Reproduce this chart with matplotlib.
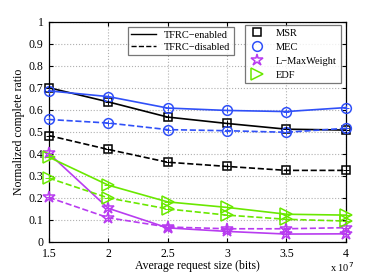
import matplotlib
matplotlib.use("Agg")
import matplotlib.pyplot as plt
from matplotlib.lines import Line2D
import numpy as np

plt.rcParams['font.family'] = ['Liberation Serif', 'DejaVu Serif']
plt.rcParams['font.size'] = 8

# average request size (x 10^7 bits)
sizes = [1.5, 2, 2.5, 3, 3.5, 4]

msr_on = [0.70, 0.636, 0.567, 0.538, 0.512, 0.508]
msr_off = [0.483, 0.42, 0.362, 0.343, 0.325, 0.325]
mec_on = [0.686, 0.66, 0.608, 0.597, 0.592, 0.61]
mec_off = [0.556, 0.54, 0.51, 0.505, 0.498, 0.516]
lmw_on = [0.402, 0.153, 0.064, 0.048, 0.036, 0.037]
lmw_off = [0.202, 0.11, 0.068, 0.06, 0.06, 0.065]
edf_on = [0.385, 0.258, 0.182, 0.157, 0.126, 0.122]
edf_off = [0.29, 0.2, 0.15, 0.122, 0.103, 0.095]

names = ['MSR', 'MEC', 'L\u2212MaxWeight', 'EDF']
colors = ['black', '#3050f8', '#b83cf0', '#6ae800']
markers = ['s', 'o', '*', '>']
msizes = [6, 7, 9, 8]

fig = plt.figure(figsize=(3.82, 2.73), dpi=100)
ax = fig.add_axes([0.128, 0.1136, 0.777, 0.807])

series = [(msr_on, msr_off), (mec_on, mec_off), (lmw_on, lmw_off), (edf_on, edf_off)]
for (on, off), c, m, ms in zip(series, colors, markers, msizes):
    ax.plot(sizes, on, '-', color=c, marker=m, ms=ms, mfc='none', mec=c, mew=1.1, lw=1.2, clip_on=False, zorder=3)
    ax.plot(sizes, off, '--', color=c, marker=m, ms=ms, mfc='none', mec=c, mew=1.1, lw=1.2, clip_on=False, zorder=3)
    # small crosshair inside markers
    ax.plot(sizes, on, '+', color=c, ms=ms * 0.7, mew=0.7, clip_on=False, zorder=4)
    ax.plot(sizes, off, '+', color=c, ms=ms * 0.7, mew=0.7, clip_on=False, zorder=4)

ax.set_xlim(1.5, 4)
ax.set_ylim(0, 1)
ax.set_xticks(sizes)
ax.set_xticklabels(['1.5', '2', '2.5', '3', '3.5', '4'])
ax.set_yticks(np.arange(0, 1.01, 0.1))
ax.set_yticklabels(['0', '0.1', '0.2', '0.3', '0.4', '0.5', '0.6', '0.7', '0.8', '0.9', '1'])
ax.grid(True, linestyle=':', color='#b0b0b0', lw=0.8)
ax.tick_params(direction='in', top=True, right=True, length=3, labelsize=8.5)
ax.tick_params(axis='x', pad=4)
ax.tick_params(axis='y', pad=4)
for s in ax.spines.values():
    s.set_linewidth(0.9)
ax.set_xlabel('Average request size (bits)', fontsize=8.5, labelpad=0.5)
ax.set_ylabel('Normalized complete ratio', fontsize=8.5, labelpad=2.5)
fig.text(0.865, 0.004, r'x 10$^7$', fontsize=7.5)

h1 = [Line2D([], [], color='black', ls='-', lw=1.0),
      Line2D([], [], color='black', ls='--', lw=1.0)]
leg1 = ax.legend(h1, ['TFRC\u2212enabled', 'TFRC\u2212disabled'], loc='upper left',
                 bbox_to_anchor=(0.266, 0.977), frameon=True, fancybox=False,
                 edgecolor='#555555', fontsize=7.5, handlelength=2.4, borderpad=0.35,
                 labelspacing=0.25, handletextpad=0.7, borderaxespad=0)
leg1.get_frame().set_linewidth(0.9)
ax.add_artist(leg1)

h2 = [Line2D([], [], ls='none', marker=m, ms=ms, mfc='none', mec=c, mew=1.1)
      for c, m, ms in zip(colors, markers, msizes)]
leg2 = ax.legend(h2, names, loc='upper right', bbox_to_anchor=(0.983, 0.986),
                 frameon=True, fancybox=False, edgecolor='#555555', fontsize=7.5,
                 borderpad=0.35, labelspacing=0.45, handletextpad=1.1, handlelength=1.5,
                 borderaxespad=0)
leg2.get_frame().set_linewidth(0.9)

fig.savefig('out.png', dpi=100)
